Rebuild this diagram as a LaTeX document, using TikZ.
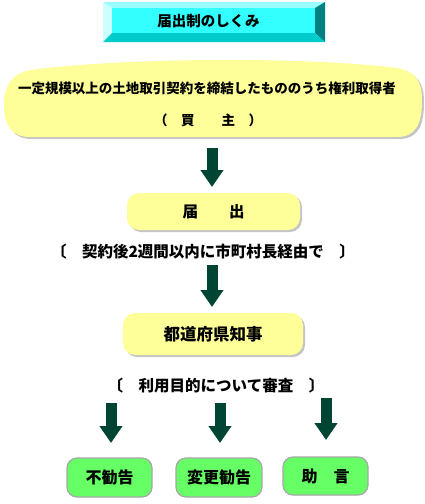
\documentclass[tikz,border=0pt]{standalone}
\usepackage{fontspec}
\setmainfont{Noto Sans CJK JP}
\usetikzlibrary{arrows.meta,shadows}
\definecolor{faceC}{HTML}{33FFFF}
\definecolor{bevTop}{HTML}{99FFFF}
\definecolor{bevLeft}{HTML}{CCFFFF}
\definecolor{bevRight}{HTML}{008080}
\definecolor{bevBot}{HTML}{00CCCC}
\definecolor{paleY}{HTML}{FFFF99}
\definecolor{paleG}{HTML}{66FF66}
\definecolor{arrowG}{HTML}{004433}
\begin{document}
\begin{tikzpicture}[x=1pt,y=-1pt]
      \useasboundingbox (0,0) rectangle (425,504);
      \tikzstyle{every node}=[font=\bfseries\fontsize{13.5}{16}\selectfont]
      \tikzstyle{yelbox}=[fill=paleY, rounded corners=12pt,
        drop shadow={shadow xshift=2pt, shadow yshift=-2pt, fill=black!45}]
      \tikzstyle{grnbox}=[fill=paleG, draw=black!35, line width=1.2pt,
        rounded corners=10pt, minimum width=85pt, minimum height=39pt,
        font=\bfseries\fontsize{16}{18}\selectfont]
      \tikzstyle{notetext}=[font=\bfseries\fontsize{15.5}{18}\selectfont]
      \tikzstyle{fatarrow}=[arrowG, line width=11pt,
        -{Triangle[width=22pt, length=17pt]}]

      % title button
      \fill[bevTop] (103,2) -- (325,2) -- (315,8) -- (112,8) -- cycle;
      \fill[bevLeft] (103,2) -- (112,8) -- (112,33) -- (103,42) -- cycle;
      \fill[bevRight] (325,2) -- (325,42) -- (315,33) -- (315,8) -- cycle;
      \fill[bevBot] (103,42) -- (112,33) -- (315,33) -- (325,42) -- cycle;
      \fill[faceC] (112,8) rectangle (315,33);
      \path (208.5,21) node[font=\bfseries\fontsize{14.5}{16}\selectfont]
        (title) {届出制のしくみ};

      % buyer
      \path[fill=paleY, drop shadow={shadow xshift=2pt, shadow yshift=-2pt,
          fill=black!45}]
        (30,137) -- (397,137)
        .. controls (417,137) and (422,122) .. (422,100)
        .. controls (422,80) and (415,72) .. (398,68)
        .. controls (300,56) and (120,58) .. (30,70)
        .. controls (10,74) and (4,88) .. (4,105)
        .. controls (4,126) and (12,137) .. (30,137) -- cycle;
      \path (207,88) node (buyer1) {一定規模以上の土地取引契約を締結したもののうち権利取得者};
      \path (208,120) node (buyer2) {（　買　　主　）};

      % notification
      \path (213.5,211.5) node[yelbox, minimum width=173pt, minimum height=37pt,
        font=\bfseries\fontsize{15.5}{18}\selectfont] (notice) {届　　出};
      \path (203,252) node[notetext] (note1) {〔　契約後2週間以内に市町村長経由で　〕};

      % governor
      \path (213,334) node[yelbox, minimum width=180pt, minimum height=42pt,
        font=\bfseries\fontsize{16.5}{18}\selectfont] (gov) {都道府県知事};
      \path (216,386) node[notetext] (note2) {〔　利用目的について審査　〕};

      % results
      \path (109.5,477.5) node[grnbox] (r1) {不勧告};
      \path (219,477.5) node[grnbox, minimum width=86pt] (r2) {変更勧告};
      \path (325.5,476) node[grnbox, minimum height=38pt] (r3) {助　言};

      % arrows
      \coordinate (a1s) at (212,148);
      \coordinate (a1e) at (212,187);
      \coordinate (a2s) at (212,265);
      \coordinate (a2e) at (212,307);
      \foreach \i/\x/\ys/\ye in {1/111/403/443, 2/220/403/443, 3/326/398/440}
      {
        \coordinate (b\i s) at (\x,\ys);
        \coordinate (b\i e) at (\x,\ye);
      }
      \draw[fatarrow] (a1s) -- (a1e);
      \draw[fatarrow] (a2s) -- (a2e);
      \foreach \i in {1,2,3}
      {
        \draw[fatarrow] (b\i s) -- (b\i e);
      }
\end{tikzpicture}
\end{document}
